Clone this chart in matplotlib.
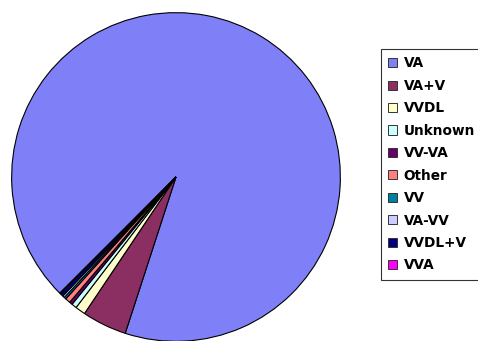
import matplotlib
matplotlib.use("Agg")
import matplotlib.pyplot as plt
from matplotlib.patches import Patch

# Share of cases per category (percent)
labels = ["VA", "VA+V", "VVDL", "Unknown", "VV-VA", "Other", "VV", "VA-VV", "VVDL+V", "VVA"]
values = [92.5, 4.4, 1.0, 0.5, 0.3, 0.5, 0.2, 0.2, 0.3, 0.1]
colors = ["#7F7FF8", "#8B2F62", "#FFFFCC", "#CCFFFF", "#660066",
          "#FF8080", "#0080A0", "#CCCCFF", "#000080", "#FF00FF"]

W, H = 478, 341
fig = plt.figure(figsize=(W / 100, H / 100), dpi=100)

# pie: centre (176, 177) px from top-left, radius 166 px
cx, cy, r = 176, 177, 166
ax = fig.add_axes([(cx - r) / W, (H - cy - r) / H, 2 * r / W, 2 * r / H])
ax.pie(values, colors=colors, startangle=-135, counterclock=False, radius=1,
       wedgeprops=dict(edgecolor="black", linewidth=0.8))
ax.set_xlim(-1.01, 1.01)
ax.set_ylim(-1.01, 1.01)
ax.set_aspect("equal")
ax.axis("off")

# legend box on the right, running off the edge
handles = [Patch(facecolor=c, edgecolor="#333333", linewidth=0.7) for c in colors]
leg = fig.legend(handles, labels, loc="upper left",
                 bbox_to_anchor=(381 / W, 1 - 49 / H),
                 frameon=True, fancybox=False, borderpad=0.55,
                 handlelength=0.66, handleheight=0.66, handletextpad=0.45,
                 labelspacing=0.62, borderaxespad=0,
                 prop=dict(family="DejaVu Sans", size=9.8, weight="bold"))
leg.get_frame().set_edgecolor("black")
leg.get_frame().set_linewidth(0.8)

fig.savefig("out.png", dpi=100)
